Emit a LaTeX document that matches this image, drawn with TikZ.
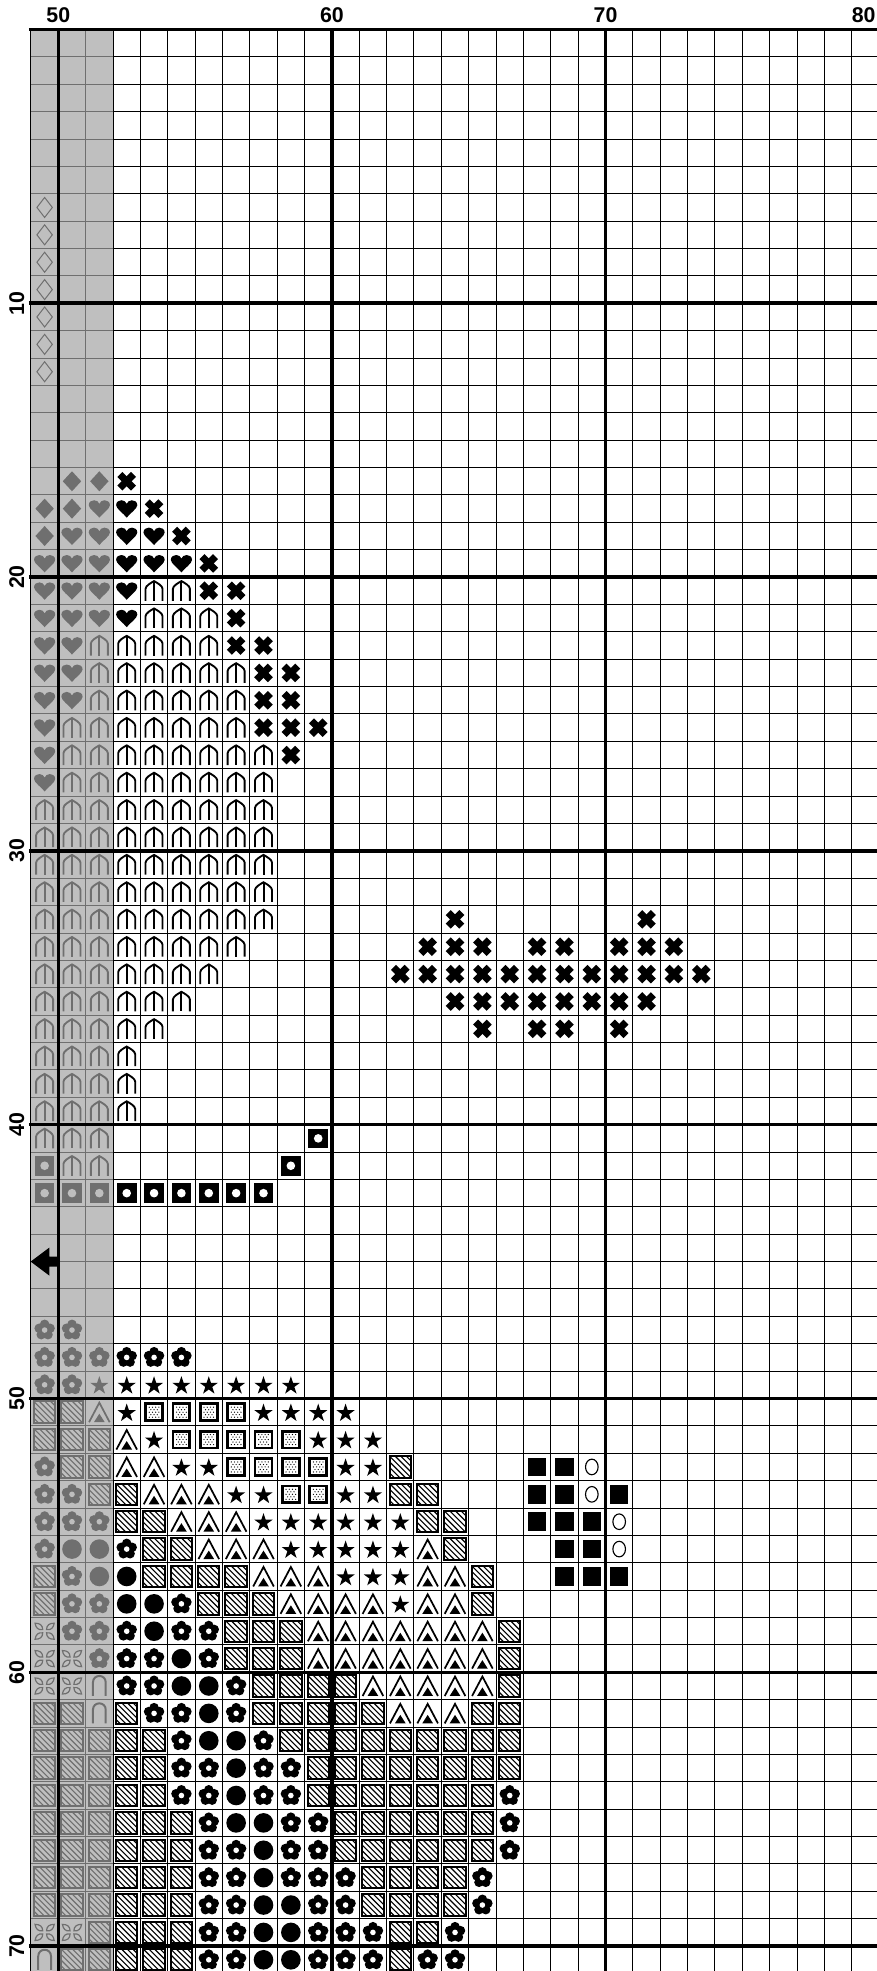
\documentclass[tikz,border=0pt]{standalone}
\usepackage{fontspec}
\setmainfont{Liberation Sans}
\definecolor{veil}{gray}{.635}
\tikzset{
  px/.style={x=.75pt,y=-.75pt},
  gridline/.style={line width=.75pt},
  majorline/.style={line width=2.7pt},
  numlabel/.style={inner sep=0pt,font=\fontsize{16}{18}\selectfont\bfseries},
  crosssym/.pic={
    \draw[px,line width=5.3pt] (-6.8,-6.8)--(6.8,6.8);
    \draw[px,line width=5.3pt] (-6.8,6.8)--(6.8,-6.8);},
  heartsym/.pic={
    \fill[px] (0,9) .. controls (-3,5) and (-10.6,0) .. (-10.6,-3.5)
      .. controls (-10.6,-7) and (-7.5,-8.4) .. (-5.2,-8.4)
      .. controls (-2.5,-8.4) and (-.8,-6.8) .. (0,-4.8)
      .. controls (.8,-6.8) and (2.5,-8.4) .. (5.2,-8.4)
      .. controls (7.5,-8.4) and (10.6,-7) .. (10.6,-3.5)
      .. controls (10.6,0) and (3,5) .. (0,9)--cycle;},
  diamondsym/.pic={\fill[px] (0,-10)--(9.2,0)--(0,10)--(-9.2,0)--cycle;},
  openkite/.pic={\draw[px,line width=.75pt] (0,-10)--(7.7,0)--(0,10)--(-7.7,0)--cycle;},
  archsym/.pic={
    \draw[px,line width=1.4pt] (-8.5,10)--(-8.5,-2) .. controls (-8.5,-5) and (-3,-8) .. (0,-9.7)
      .. controls (3,-8) and (8.5,-5) .. (8.5,-2)--(8.5,10);
    \draw[px,line width=1.5pt] (0,-9.7)--(0,10);},
  bowsym/.pic={
    \draw[px,line width=1.5pt] (-6.4,10)--(-6.4,-3.5) .. controls (-6.4,-12.2) and (6.4,-12.2) .. (6.4,-3.5)--(6.4,10);},
  ringsym/.pic={
    \fill[px] (-9.8,-9.8) rectangle (9.8,9.8);
    \fill[px,white] (0,0) circle (4.3);},
  flowersym/.pic={
    \foreach \a in {-90,-18,54,126,198} \fill[px] (\a:5.7) circle (4.8);
    \fill[px] (0,0) circle (5);
    \fill[px,white] (0,0) circle (2.8);},
  discsym/.pic={\fill[px] (0,0) circle (9.8);},
  starsym/.pic={
    \fill[px,shift={(0,1)}] (0,-9.6)--(2.2,-3)--(9.1,-3)--(3.5,1.1)--(5.7,7.8)--(0,3.7)
      --(-5.7,7.8)--(-3.5,1.1)--(-9.1,-3)--(-2.2,-3)--cycle;},
  dotsym/.pic={
    \draw[px,line width=2pt] (-8.4,-8.4) rectangle (8.4,8.4);
    \foreach \dy in {-5,0,5} \foreach \dx in {-4.8,-1.6,1.6,4.8} \fill[px] (\dx,\dy) circle (.65);
    \foreach \dy in {-2.5,2.5} \foreach \dx in {-3.2,0,3.2} \fill[px] (\dx,\dy) circle (.65);},
  tentsym/.pic={
    \draw[px,line width=1.3pt] (-10.3,10)--(0,-9.5)--(10.3,10);
    \fill[px] (-5.4,10)--(0,1.5)--(5.4,10)--cycle;},
  hatchsym/.pic={
    \begin{scope}[px]
      \begin{scope}
        \clip (-10.7,-10.7) rectangle (10.7,10.7);
        \foreach \d in {-22.4,-16.8,...,22.5} \draw[line width=.85pt] (\d-12,-12)--(\d+12,12);
      \end{scope}
      \draw[line width=1.5pt] (-10.7,-10.7) rectangle (10.7,10.7);
    \end{scope}},
  leafsym/.pic={
    \foreach \a in {40,140,220,320}
      \draw[px,rotate=\a,line width=.9pt] (2.5,0) .. controls (5.5,-3.5) and (9,-3) .. (12.5,0)
        .. controls (9,3) and (5.5,3.5) .. (2.5,0)--cycle;},
  blocksym/.pic={\fill[px] (-9.3,-9.3) rectangle (9.3,9.3);},
  ovalsym/.pic={\draw[px,line width=.85pt] (0,0) ellipse (6.3 and 7.8);}
}
\newcommand{\stitches}[2]{\foreach \row/\cols in {#2} {\foreach \col in \cols \pic at (\col-.5,\row-.5) {#1};}}
\begin{document}
\begin{tikzpicture}[x=20.52pt,y=-20.535pt]
  \useasboundingbox (-2.131,-1.077) rectangle (29.90,70.91);
  \foreach \i in {-1,...,29} \draw[gridline] (\i,0)--(\i,71);
  \foreach \j in {1,...,70} \draw[gridline] (-1,\j)--(30,\j);
  \stitches{openkite}{7/0,8/0,9/0,10/0,11/0,12/0,13/0}
  \stitches{diamondsym}{17/{1,2},18/{0,1},19/0}
  \stitches{heartsym}{18/{2,3},19/{1,2,3,4},20/{0,...,5},21/{0,...,3},22/{0,...,3},23/{0,1},24/{0,1},25/{0,1},26/0,27/0,28/0}
  \stitches{crosssym}{17/3,18/4,19/5,20/6,21/{6,7},22/7,23/{7,8},24/{8,9},25/{8,9},26/{8,9,10},27/9,
    33/{15,22},34/{14,15,16,18,19,21,22,23},35/{13,...,24},36/{15,...,22},37/{16,18,19,21}}
  \stitches{archsym}{21/{4,5},22/{4,5,6},23/{2,...,6},24/{2,...,7},25/{2,...,7},26/{1,...,7},27/{1,...,8},28/{1,...,8},
    29/{0,...,8},30/{0,...,8},31/{0,...,8},32/{0,...,8},33/{0,...,8},34/{0,...,7},35/{0,...,6},36/{0,...,5},37/{0,...,4},
    38/{0,...,3},39/{0,...,3},40/{0,...,3},41/{0,1,2},42/{1,2}}
  \stitches{ringsym}{41/10,42/{0,9},43/{0,...,8}}
  \stitches{flowersym}{48/{0,1},49/{0,...,5},50/{0,1},53/0,54/{0,1},55/{0,1,2},56/{0,3},57/1,58/{1,2,5},59/{1,2,3,5,6},
    60/{2,3,4,6},61/{3,4,7},62/{4,5,7},63/{5,8},64/{5,6,8,9},65/{5,6,8,9,17},66/{6,9,10,17},67/{6,7,9,10,17},
    68/{6,7,9,10,11,16},69/{6,7,10,11,16},70/{6,7,10,11,12,15},71/{6,7,10,11,12,14,15}}
  \stitches{discsym}{56/{1,2},57/{2,3},58/{3,4},59/4,60/5,61/{5,6},62/6,63/{6,7},64/7,65/7,66/{7,8},67/8,68/8,69/{8,9},70/{8,9},71/{8,9}}
  \stitches{starsym}{50/{2,...,9},51/{3,8,9,10,11},52/{4,10,11,12},53/{5,6,11,12},54/{7,8,11,12},55/{8,...,13},56/{9,...,13},57/{11,12,13},58/13}
  \stitches{dotsym}{51/{4,...,7},52/{5,...,9},53/{7,...,10},54/{9,10}}
  \stitches{tentsym}{51/2,52/3,53/{3,4},54/{4,5,6},55/{5,6,7},56/{6,7,8,14},57/{8,9,10,14,15},58/{9,10,11,12,14,15},
    59/{10,...,16},60/{10,...,16},61/{12,...,16},62/{13,14,15}}
  \stitches{hatchsym}{51/{0,1},52/{0,1,2},53/{1,2,13},54/{2,3,13,14},55/{3,4,14,15},56/{4,5,15},57/{0,4,5,6,7,16},58/{0,6,7,8,16},
    59/{7,8,9,17},60/{7,8,9,17},61/{8,9,10,11,17},62/{0,1,3,8,9,10,11,12,16,17},63/{0,1,2,3,4,9,10,11,12,13,14,15,16,17},
    64/{0,1,2,3,4,10,11,12,13,14,15,16,17},65/{0,1,2,3,4,10,11,12,13,14,15,16},66/{0,1,2,3,4,5,11,12,13,14,15,16},
    67/{0,1,2,3,4,5,11,12,13,14,15,16},68/{0,1,2,3,4,5,12,13,14,15},69/{0,1,2,3,4,5,12,13,14,15},70/{2,3,4,5,13,14},71/{1,2,3,4,5,13}}
  \stitches{leafsym}{59/0,60/{0,1},61/{0,1},70/{0,1}}
  \stitches{bowsym}{61/2,62/2,71/0}
  \stitches{blocksym}{53/{18,19},54/{18,19,21},55/{18,19,20},56/{19,20},57/{19,20,21}}
  \stitches{ovalsym}{53/20,54/20,55/21,56/21}
  \fill[veil,opacity=.69] (-1,0) rectangle (2,71);
  \foreach \j in {0,10,...,70} \draw[majorline] (-1.08,\j)--(30,\j);
  \foreach \i in {0,10,20} \draw[majorline] (\i,0)--(\i,71);
  \fill (-1.01,45)--(-.33,44.49)--(-.33,44.82)--(0,44.82)--(0,45.18)--(-.33,45.18)--(-.33,45.51)--cycle;
  \node[numlabel] (col50) at (0,-.511) {50};
  \node[numlabel] (col60) at (10,-.511) {60};
  \node[numlabel] (col70) at (20,-.511) {70};
  \node[numlabel,anchor=east] (col80) at (29.88,-.511) {80};
  \foreach \j in {10,20,...,70} \node[numlabel,rotate=90] (row\j) at (-1.52,\j) {\j};
\end{tikzpicture}
\end{document}
